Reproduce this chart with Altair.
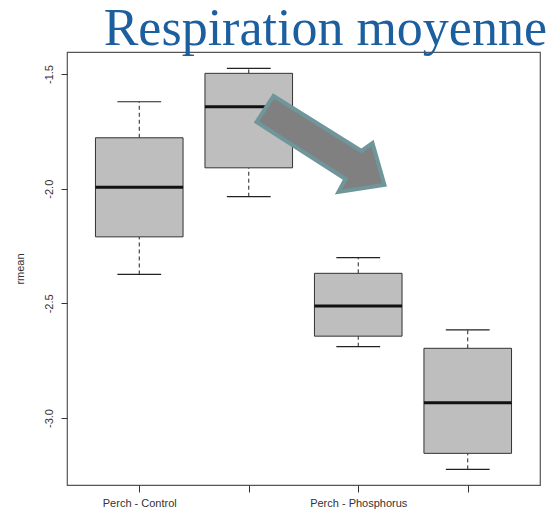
import json
import altair as alt
import pandas as pd

# ---- data ----
groups = ["Perch - Control", "Control (b)", "Perch - Phosphorus", "Phosphorus (b)"]
tick_labels = ["Perch - Control", "", "Perch - Phosphorus", ""]
whisker_low = [-2.374, -2.035, -2.689, -3.224]
q1 = [-2.210, -1.909, -2.643, -3.154]
median = [-1.994, -1.643, -2.512, -2.933]
q3 = [-1.778, -1.497, -2.369, -2.696]
whisker_high = [-1.621, -1.475, -2.301, -2.616]
y_ticks = [-1.5, -2.0, -2.5, -3.0]
y_title = "rmean"
title_text = ["Respiration moyenne"]
arrow_pos = {"x": [2.655], "y": [-1.805]}

df = pd.DataFrame({
    "group": groups,
    "pos": list(range(1, len(groups) + 1)),
    "lo": whisker_low, "q1": q1, "med": median, "q3": q3, "hi": whisker_high,
})

xs = alt.Scale(domain=[0.34, 4.66], nice=False, zero=False)
ys = alt.Scale(domain=[-3.292, -1.404], nice=False, zero=False)

ax_x = alt.Axis(values=list(range(1, len(groups) + 1)),
                labelExpr=json.dumps(tick_labels) + "[datum.value - 1]",
                tickSize=7, tickColor="#333", labelPadding=5, domain=False, grid=False,
                labelFont="Liberation Sans", labelFontSize=11, labelColor="#333",
                labelFlush=False, labelOverlap=False, title=None)
ax_y = alt.Axis(values=y_ticks,
                labelExpr="replace(format(datum.value, '.1f'), '\u2212', '-')",
                labelAngle=-90, labelAlign="center", labelBaseline="bottom",
                tickSize=6, tickColor="#333", labelPadding=7, domain=False, grid=False,
                labelFont="Liberation Sans", labelFontSize=11, labelColor="#333",
                labelFlush=False, labelOverlap=False,
                title=y_title, titleX=-47, titleY=216.5, titleAngle=-90,
                titleAlign="center", titleBaseline="middle",
                titleFont="Liberation Sans", titleFontSize=11, titleFontWeight="normal",
                titleColor="#333")

base = alt.Chart(df)

whisk_up = base.mark_rule(color="#222", strokeWidth=1, strokeDash=[4, 3]).encode(
    x=alt.X("pos:Q", scale=xs, axis=ax_x),
    y=alt.Y("q3:Q", scale=ys, axis=ax_y), y2="hi:Q")
whisk_dn = base.mark_rule(color="#222", strokeWidth=1, strokeDash=[4, 3]).encode(
    x=alt.X("pos:Q", scale=xs, axis=ax_x),
    y=alt.Y("lo:Q", scale=ys, axis=ax_y), y2="q1:Q")

caps = base.transform_calculate(cl="datum.pos - 0.2", cr="datum.pos + 0.2")
cap_hi = caps.mark_rule(color="#222", strokeWidth=1.2).encode(
    x=alt.X("cl:Q", scale=xs, axis=ax_x), x2="cr:Q",
    y=alt.Y("hi:Q", scale=ys, axis=ax_y))
cap_lo = caps.mark_rule(color="#222", strokeWidth=1.2).encode(
    x=alt.X("cl:Q", scale=xs, axis=ax_x), x2="cr:Q",
    y=alt.Y("lo:Q", scale=ys, axis=ax_y))

boxes = base.transform_calculate(bl="datum.pos - 0.4", br="datum.pos + 0.4")
box = boxes.mark_rect(fill="#bebebe", stroke="#333", strokeWidth=1).encode(
    x=alt.X("bl:Q", scale=xs, axis=ax_x), x2="br:Q",
    y=alt.Y("q1:Q", scale=ys, axis=ax_y), y2="q3:Q")
med = boxes.mark_rule(color="#111", strokeWidth=3).encode(
    x=alt.X("bl:Q", scale=xs, axis=ax_x), x2="br:Q",
    y=alt.Y("med:Q", scale=ys, axis=ax_y))

arrow_path = ("M -0.671 -0.686 L 0.586 0.1 L 0.743 -0.014 L 0.914 0.586 "
              "L 0.257 0.686 L 0.357 0.5 L -0.914 -0.314 Z")
arrow = alt.Chart(pd.DataFrame(arrow_pos)).mark_point(
    shape=arrow_path, size=19600, filled=True, fill="#808080", fillOpacity=1,
    stroke="#6f969a", strokeOpacity=1, strokeWidth=4, opacity=1, clip=False
).encode(x=alt.X("x:Q", scale=xs, axis=ax_x), y=alt.Y("y:Q", scale=ys, axis=ax_y))

title = alt.Chart(pd.DataFrame({"t": title_text})).mark_text(
    font="Liberation Serif", fontSize=52, color="#1c5f9f",
    align="right", baseline="alphabetic"
).encode(text="t:N", x=alt.value(480), y=alt.value(-7))

chart = alt.layer(whisk_up, whisk_dn, cap_hi, cap_lo, box, med, arrow, title).properties(
    width=473, height=433,
    padding={"left": 67, "top": 52, "right": 16, "bottom": 33},
    autosize=alt.AutoSizeParams(type="none"),
    background="white",
).configure_view(stroke="#555", strokeWidth=1.2)

chart.save("out.html", embed_options={"renderer": "svg", "actions": False})
